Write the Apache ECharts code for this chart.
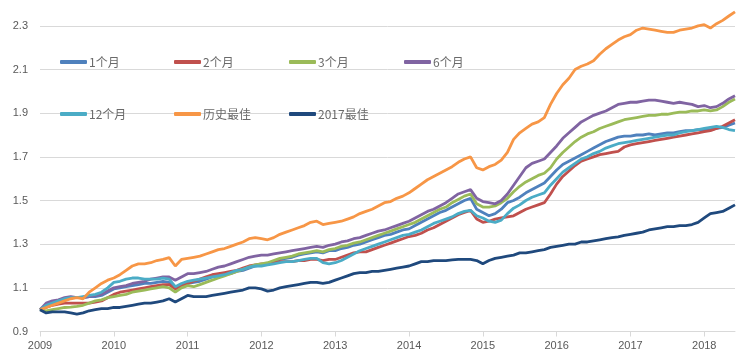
<!DOCTYPE html>
<html>
<head>
<meta charset="utf-8">
<script src="https://cdn.jsdelivr.net/npm/echarts@6/dist/echarts.min.js"></script>
<style>html,body{margin:0;padding:0;background:#fff}#c{width:744px;height:360px}</style>
</head>
<body>
<div id="c"></div>
<script>
// Monthly categories from 2009-01 to 2018-06
var months = [];
for (var y = 2009; y <= 2018; y++) {
  for (var m = 1; m <= 12; m++) {
    if (y === 2018 && m > 6) break;
    months.push(y + '-' + (m < 10 ? '0' + m : m));
  }
}
var yTicks = ['0.9','1.1','1.3','1.5','1.7','1.9','2.1','2.3'];
var seriesNames = ['1个月','2个月','3个月','6个月','12个月','历史最佳','2017最佳'];

var m1 = [
 1.00,1.02,1.03,1.04,1.05,1.055,1.055,1.055,1.06,1.06,1.065,1.08,
 1.095,1.10,1.105,1.11,1.115,1.12,1.12,1.125,1.13,1.125,1.10,1.115,
 1.12,1.125,1.13,1.14,1.15,1.155,1.16,1.165,1.175,1.18,1.19,1.20,
 1.205,1.21,1.22,1.23,1.235,1.24,1.25,1.255,1.26,1.265,1.26,1.27,
 1.27,1.28,1.285,1.295,1.30,1.31,1.32,1.33,1.34,1.345,1.355,1.365,
 1.37,1.385,1.40,1.415,1.43,1.445,1.455,1.47,1.485,1.50,1.51,1.46,
 1.445,1.43,1.44,1.46,1.49,1.50,1.515,1.535,1.55,1.565,1.58,1.61,
 1.64,1.665,1.68,1.695,1.71,1.725,1.74,1.755,1.77,1.78,1.79,1.795,
 1.795,1.80,1.80,1.805,1.80,1.805,1.81,1.81,1.815,1.82,1.82,1.825,
 1.825,1.825,1.83,1.835,1.845,1.855];
var m2 = [
 1.00,1.01,1.02,1.025,1.03,1.03,1.03,1.03,1.03,1.035,1.04,1.055,
 1.07,1.08,1.085,1.09,1.095,1.10,1.105,1.11,1.115,1.115,1.095,1.11,
 1.12,1.13,1.14,1.15,1.16,1.165,1.17,1.175,1.18,1.19,1.20,1.205,
 1.21,1.21,1.215,1.22,1.22,1.22,1.225,1.225,1.23,1.23,1.225,1.23,
 1.23,1.24,1.25,1.26,1.265,1.265,1.275,1.285,1.295,1.305,1.315,1.325,
 1.335,1.34,1.35,1.365,1.375,1.39,1.405,1.42,1.435,1.445,1.455,1.415,
 1.40,1.405,1.415,1.42,1.425,1.43,1.445,1.46,1.47,1.48,1.49,1.53,
 1.575,1.61,1.635,1.66,1.68,1.69,1.70,1.71,1.715,1.72,1.725,1.745,
 1.755,1.76,1.765,1.77,1.775,1.78,1.785,1.79,1.795,1.80,1.805,1.81,
 1.815,1.82,1.83,1.84,1.855,1.87];
var m3 = [
 1.00,0.995,1.00,1.005,1.01,1.012,1.015,1.02,1.03,1.04,1.045,1.055,
 1.06,1.065,1.07,1.08,1.085,1.09,1.095,1.10,1.105,1.10,1.08,1.10,
 1.11,1.105,1.115,1.125,1.135,1.145,1.155,1.165,1.175,1.185,1.195,1.205,
 1.21,1.215,1.225,1.235,1.24,1.245,1.255,1.26,1.265,1.27,1.265,1.275,
 1.28,1.29,1.295,1.305,1.31,1.32,1.33,1.34,1.35,1.36,1.37,1.38,
 1.39,1.40,1.415,1.43,1.445,1.46,1.47,1.49,1.505,1.52,1.53,1.485,
 1.47,1.47,1.475,1.49,1.51,1.54,1.565,1.585,1.60,1.615,1.625,1.65,
 1.69,1.72,1.745,1.77,1.79,1.805,1.815,1.83,1.84,1.85,1.86,1.87,
 1.875,1.88,1.885,1.89,1.89,1.895,1.895,1.90,1.905,1.905,1.91,1.91,
 1.915,1.91,1.915,1.93,1.95,1.965];
var m6 = [
 1.00,1.03,1.04,1.045,1.055,1.06,1.055,1.055,1.06,1.065,1.07,1.085,
 1.10,1.105,1.11,1.12,1.125,1.13,1.14,1.145,1.15,1.15,1.135,1.15,
 1.165,1.165,1.17,1.175,1.185,1.195,1.20,1.21,1.22,1.23,1.24,1.245,
 1.25,1.25,1.255,1.26,1.265,1.27,1.275,1.28,1.285,1.29,1.285,1.295,
 1.30,1.31,1.315,1.325,1.33,1.34,1.35,1.36,1.365,1.375,1.385,1.395,
 1.405,1.42,1.435,1.45,1.46,1.475,1.49,1.51,1.53,1.54,1.55,1.51,
 1.495,1.49,1.485,1.50,1.53,1.57,1.61,1.65,1.67,1.68,1.69,1.72,
 1.75,1.785,1.81,1.835,1.86,1.875,1.89,1.90,1.91,1.925,1.94,1.945,
 1.95,1.95,1.955,1.96,1.96,1.955,1.95,1.945,1.95,1.945,1.94,1.93,
 1.935,1.925,1.93,1.945,1.965,1.98];
var m12 = [
 1.00,1.02,1.03,1.04,1.05,1.055,1.055,1.06,1.065,1.07,1.08,1.10,
 1.125,1.13,1.14,1.145,1.145,1.14,1.14,1.14,1.145,1.14,1.105,1.12,
 1.13,1.135,1.14,1.145,1.15,1.155,1.16,1.17,1.18,1.185,1.195,1.20,
 1.20,1.205,1.21,1.215,1.22,1.22,1.225,1.23,1.235,1.235,1.215,1.21,
 1.215,1.225,1.24,1.255,1.27,1.28,1.29,1.30,1.31,1.32,1.33,1.34,
 1.345,1.355,1.365,1.38,1.395,1.405,1.415,1.425,1.44,1.45,1.455,1.43,
 1.42,1.405,1.40,1.41,1.44,1.465,1.48,1.50,1.515,1.525,1.535,1.57,
 1.60,1.63,1.65,1.67,1.69,1.70,1.715,1.725,1.74,1.75,1.76,1.765,
 1.77,1.775,1.78,1.785,1.79,1.795,1.80,1.80,1.81,1.815,1.82,1.825,
 1.83,1.835,1.84,1.835,1.825,1.82];
var best = [
 1.00,1.01,1.02,1.03,1.04,1.05,1.055,1.05,1.08,1.10,1.12,1.135,
 1.145,1.16,1.18,1.20,1.21,1.21,1.215,1.225,1.23,1.238,1.20,1.23,
 1.235,1.24,1.245,1.255,1.265,1.275,1.28,1.29,1.30,1.31,1.325,1.33,
 1.325,1.32,1.33,1.345,1.355,1.365,1.375,1.385,1.40,1.405,1.39,1.395,
 1.40,1.405,1.415,1.425,1.44,1.45,1.46,1.475,1.49,1.495,1.51,1.52,
 1.535,1.555,1.575,1.595,1.61,1.625,1.64,1.655,1.675,1.69,1.70,1.65,
 1.64,1.655,1.665,1.685,1.72,1.78,1.81,1.83,1.85,1.86,1.88,1.94,
 1.99,2.03,2.06,2.10,2.115,2.125,2.14,2.17,2.195,2.215,2.235,2.25,
 2.26,2.28,2.29,2.285,2.28,2.275,2.27,2.27,2.28,2.285,2.29,2.30,
 2.305,2.29,2.31,2.325,2.345,2.364];
var best2017 = [
 1.00,0.985,0.99,0.99,0.99,0.985,0.98,0.985,0.995,1.00,1.005,1.005,
 1.01,1.01,1.015,1.02,1.025,1.03,1.03,1.035,1.04,1.05,1.035,1.05,
 1.065,1.06,1.06,1.06,1.065,1.07,1.075,1.08,1.085,1.09,1.10,1.10,
 1.095,1.085,1.09,1.10,1.105,1.11,1.115,1.12,1.125,1.125,1.12,1.125,
 1.135,1.145,1.155,1.165,1.17,1.17,1.175,1.175,1.18,1.185,1.19,1.195,
 1.20,1.21,1.22,1.22,1.225,1.225,1.225,1.228,1.23,1.23,1.23,1.225,
 1.21,1.225,1.235,1.24,1.245,1.25,1.26,1.26,1.265,1.27,1.275,1.285,
 1.29,1.295,1.30,1.30,1.31,1.31,1.315,1.32,1.325,1.33,1.333,1.34,
 1.345,1.35,1.355,1.365,1.37,1.375,1.38,1.38,1.385,1.385,1.39,1.40,
 1.42,1.44,1.445,1.45,1.465,1.48];

var allData = [m1, m2, m3, m6, m12, best, best2017];
var colors = ['#4F81BD','#C0504D','#9BBB59','#8064A2','#4BACC6','#F79646','#1F497D'];
var legendPos = [[60,56],[174,56],[289,56],[404,56],[60,108],[174,108],[289,108]];

var chart = echarts.init(document.getElementById('c'), null, {renderer: 'canvas'});
var series = seriesNames.map(function (n, i) {
  return {
    name: n, type: 'line', data: allData[i], showSymbol: false, symbol: 'none',
    lineStyle: {width: 2.8, color: colors[i]}, itemStyle: {color: colors[i]}
  };
});
var legends = seriesNames.map(function (n, i) {
  return {
    data: [n], left: legendPos[i][0], top: legendPos[i][1], padding: 0,
    icon: 'roundRect', itemWidth: 27, itemHeight: 4, itemGap: 0,
    textStyle: {color: '#6a6a6a', fontSize: 12, fontFamily: 'Noto Sans CJK SC', padding: [0, 0, 0, -3]},
    selectedMode: false
  };
});
var option = {
  animation: false,
  backgroundColor: '#fff',
  color: colors,
  legend: legends,
  grid: {left: 40, right: 9, top: 4, bottom: 28.5, containLabel: false},
  xAxis: {
    type: 'category', data: months, boundaryGap: false,
    axisLine: {lineStyle: {color: '#d9d9d9'}},
    axisTick: {show: true, length: 5, lineStyle: {color: '#d9d9d9'},
      interval: function (i) { return i % 12 === 0; }},
    axisLabel: {color: '#595959', fontSize: 11, fontFamily: 'Liberation Sans', margin: 9,
      interval: function (i) { return i % 12 === 0; },
      formatter: function (v) { return v.slice(0, 4); }},
    splitLine: {show: false}
  },
  yAxis: {
    type: 'value', min: 0.9, max: 2.4, interval: 0.2,
    axisLine: {show: false}, axisTick: {show: false},
    axisLabel: {color: '#595959', fontSize: 11, fontFamily: 'Liberation Sans', margin: 12,
      showMaxLabel: false,
      formatter: function (v) {
        var s = v.toFixed(1);
        return yTicks.indexOf(s) >= 0 ? s : '';
      }},
    splitLine: {show: true, showMaxLine: false, lineStyle: {color: '#d9d9d9', width: 1}}
  },
  series: series
};
chart.setOption(option);
</script>
</body>
</html>
